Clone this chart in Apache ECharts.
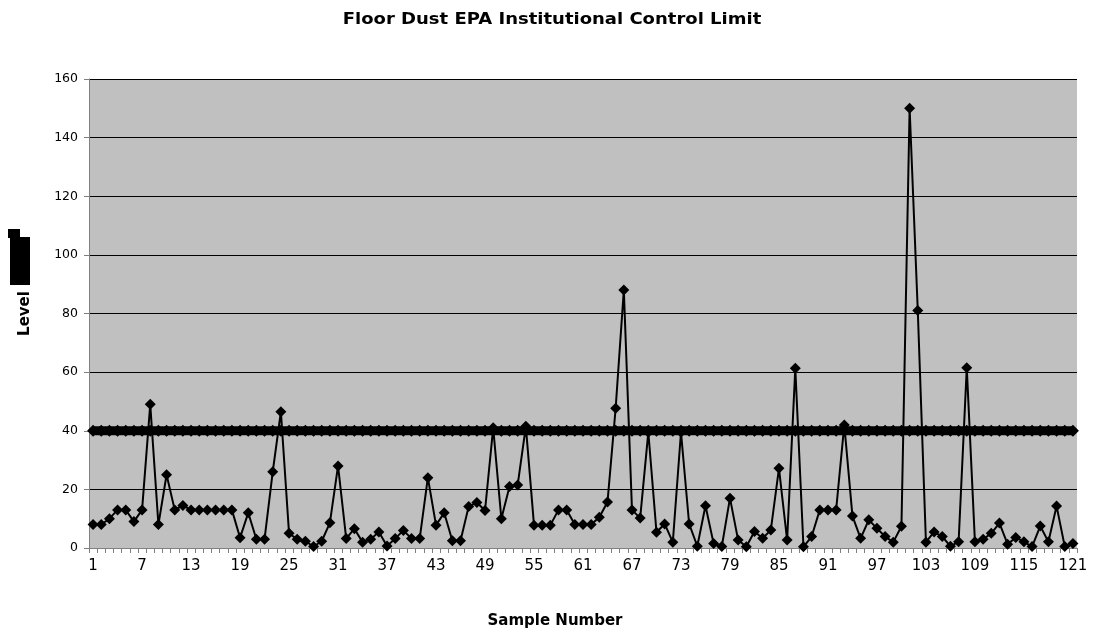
<!DOCTYPE html>
<html>
<head>
<meta charset="utf-8">
<script src="https://cdn.jsdelivr.net/npm/echarts@6/dist/echarts.min.js"></script>
<style>
  html, body { margin: 0; padding: 0; background: #fff; }
  #chart { width: 1097px; height: 636px; }
</style>
</head>
<body>
<div id="chart"></div>
<script>
// sample numbers 1..121
var sampleNumbers = [];
for (var i = 1; i <= 121; i++) { sampleNumbers.push(String(i)); }

// floor dust levels
var dustLevels = [
    8, 8, 10, 13, 13, 9, 13, 49, 8, 25,
    13, 14.5, 13, 13, 13, 13, 13, 13, 3.5, 12,
    3, 3, 26, 46.5, 5, 3, 2.3, 0.5, 2.3, 8.6,
    28, 3.2, 6.6, 2, 3, 5.5, 0.7, 3.2, 6, 3.2,
    3.2, 24, 7.8, 12, 2.5, 2.5, 14.2, 15.5, 12.8, 41,
    10, 21, 21.5, 41.5, 7.8, 7.8, 7.8, 13, 13, 8,
    8, 8, 10.5, 15.7, 47.7, 88, 13, 10.2, 39.5, 5.4,
    8.2, 2, 39.5, 8.2, 0.6, 14.4, 1.5, 0.5, 17, 2.7,
    0.4, 5.6, 3.3, 6.1, 27.2, 2.7, 61.3, 0.4, 3.9, 13,
    13, 13, 42, 10.9, 3.3, 9.6, 6.7, 3.9, 2, 7.4,
    150, 81, 2, 5.5, 3.9, 0.6, 2.1, 61.5, 2.1, 3,
    5, 8.5, 1.3, 3.6, 2.1, 0.5, 7.5, 2.1, 14.3, 0.5,
    1.5
];

// EPA institutional control limit
var controlLimit = [
    40, 40, 40, 40, 40, 40, 40, 40, 40, 40, 40, 40, 40, 40, 40, 40, 40, 40, 40, 40,
    40, 40, 40, 40, 40, 40, 40, 40, 40, 40, 40, 40, 40, 40, 40, 40, 40, 40, 40, 40,
    40, 40, 40, 40, 40, 40, 40, 40, 40, 40, 40, 40, 40, 40, 40, 40, 40, 40, 40, 40,
    40, 40, 40, 40, 40, 40, 40, 40, 40, 40, 40, 40, 40, 40, 40, 40, 40, 40, 40, 40,
    40, 40, 40, 40, 40, 40, 40, 40, 40, 40, 40, 40, 40, 40, 40, 40, 40, 40, 40, 40,
    40, 40, 40, 40, 40, 40, 40, 40, 40, 40, 40, 40, 40, 40, 40, 40, 40, 40, 40, 40,
    40
];

var levelTicks = [0, 20, 40, 60, 80, 100, 120, 140, 160];

// the picture looks stretched sideways, a wide face fits it better
var font = '"DejaVu Sans", "Liberation Sans", sans-serif';

var myChart = echarts.init(document.getElementById('chart'));

var option = {
    animation: false,
    backgroundColor: '#ffffff',
    grid: {
        left: 89,
        right: 20,
        top: 79,
        bottom: 88,
        show: true,
        backgroundColor: '#c0c0c0',
        borderWidth: 0
    },
    xAxis: {
        type: 'category',
        data: sampleNumbers,
        boundaryGap: true,
        axisLine: { lineStyle: { color: '#808080', width: 1 } },
        axisTick: { show: true, interval: 0, length: 5, alignWithLabel: false, lineStyle: { color: '#808080' } },
        axisLabel: { interval: 5, margin: 11, fontFamily: font, fontSize: 15, color: '#000' },
        splitLine: { show: false }
    },
    yAxis: {
        type: 'value',
        min: 0,
        max: levelTicks[levelTicks.length - 1],
        interval: 20,
        name: 'Level',
        nameLocation: 'middle',
        nameGap: 56,
        nameRotate: 90,
        nameTextStyle: { fontFamily: font, fontSize: 15, fontWeight: 'bold', color: '#000' },
        axisLine: { show: true, lineStyle: { color: '#808080', width: 1 } },
        axisTick: { show: true, length: 5, lineStyle: { color: '#808080' } },
        axisLabel: { margin: 11, fontFamily: font, fontSize: 12.5, color: '#000' },
        splitLine: { show: true, lineStyle: { color: '#000', width: 1 } }
    },
    series: [
        {
            name: 'EPA Limit',
            type: 'line',
            data: controlLimit,
            symbol: 'diamond',
            symbolSize: 12,
            showAllSymbol: true,
            itemStyle: { color: '#000' },
            lineStyle: { color: '#000', width: 9 },
            z: 2
        },
        {
            name: 'Floor Dust',
            type: 'line',
            data: dustLevels,
            symbol: 'diamond',
            symbolSize: 11,
            showAllSymbol: true,
            itemStyle: { color: '#000' },
            lineStyle: { color: '#000', width: 2 },
            z: 3
        }
    ],
    graphic: [
        // chart title, widened like the original
        {
            type: 'text', x: 552, y: 20, scaleX: 1.2, originX: 0,
            style: {
                text: 'Floor Dust EPA Institutional Control Limit',
                font: 'bold 15px ' + font, fill: '#000',
                align: 'center', verticalAlign: 'middle'
            }
        },
        // x axis title
        {
            type: 'text', x: 555, y: 621,
            style: {
                text: 'Sample Number',
                font: 'bold 15px ' + font, fill: '#000',
                align: 'center', verticalAlign: 'middle'
            }
        },
        { type: 'rect', left: 10, top: 237, shape: { width: 20, height: 48 }, style: { fill: '#000' } },
        { type: 'rect', left: 8, top: 229, shape: { width: 12, height: 9 }, style: { fill: '#000' } }
    ]
};

myChart.setOption(option);
</script>
</body>
</html>
